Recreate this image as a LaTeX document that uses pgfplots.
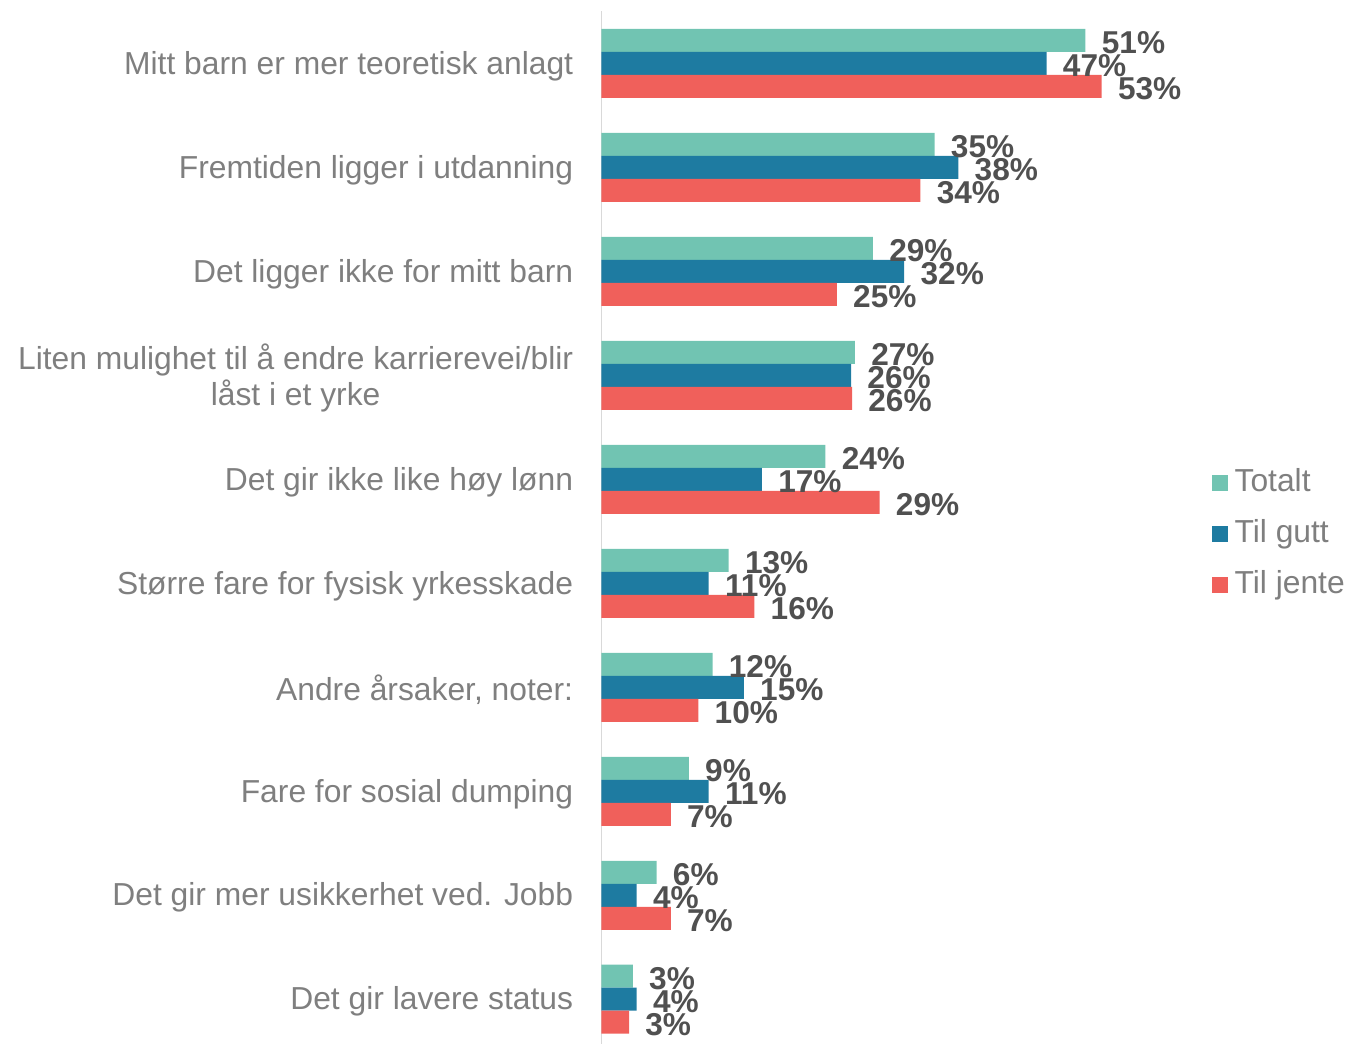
\documentclass[border=0pt]{standalone}
\usepackage{pgfplots}
\usepackage{pgfplotstable}
\pgfplotsset{compat=1.18}
\usepackage{fontspec}
\setmainfont{Liberation Sans}
\definecolor{cTot}{RGB}{113,196,178}
\definecolor{cGutt}{RGB}{30,123,161}
\definecolor{cJente}{RGB}{240,96,91}
\definecolor{catgray}{RGB}{127,127,127}
\definecolor{valgray}{RGB}{80,80,80}
\definecolor{axgray}{RGB}{217,217,217}
\newcommand{\fs}{\fontsize{15.9}{18}\selectfont}
\newcommand{\vfs}{\fontsize{15.8}{18}\selectfont}
\pgfplotstableread{
y tot gutt jente
0 51.0 46.9 52.7
1 35.1 37.6 33.6
2 28.6 31.9 24.8
3 26.7 26.3 26.4
4 23.6 16.9 29.3
5 13.4 11.3 16.1
6 11.7 15.0 10.2
7 9.2 11.3 7.3
8 5.8 3.7 7.3
9 3.3 3.7 2.9
}\data
\begin{document}
\begin{tikzpicture}
\useasboundingbox (0,0) rectangle (675pt,522pt);
\begin{axis}[
  at={(300.75pt,-3.6pt)}, anchor=south west,
  scale only axis, width=284.7pt, height=519.85pt,
  xmin=0, xmax=60, ymin=-0.5, ymax=9.5, y dir=reverse,
  enlargelimits=false, clip=false,
  xbar, bar width=0.2212,
  axis x line=none, axis y line*=left,
  axis line style={axgray, line width=0.75pt},
  ytick={0,...,9}, major tick length=0pt,
  yticklabels={Mitt barn er mer teoretisk anlagt, Fremtiden ligger i utdanning, Det ligger ikke for mitt barn, {Liten mulighet til å endre karrierevei/blir\\låst i et yrke}, Det gir ikke like høy lønn, Større fare for fysisk yrkesskade, {Andre årsaker, noter:}, Fare for sosial dumping, Det gir mer usikkerhet ved. Jobb, Det gir lavere status},
  yticklabel style={font=\fs, text=catgray, align=center, inner sep=0pt, yshift=-1.25pt},
  yticklabel shift=14pt,
  every node near coord/.append style={font=\bfseries\vfs, text=valgray, inner sep=0pt, anchor=west, xshift=8pt, yshift=-1pt},
  legend style={draw=none, fill=none, at={(1.0722,0.4974)}, anchor=west, inner sep=0pt, font=\fs, text=catgray, row sep=10.5pt,
    nodes={inner xsep=3.5pt, inner ysep=0pt, text height=11.5pt, text depth=3.5pt}},
  legend cell align=left,
  legend image code/.code={\fill[#1] (0pt,-3.8pt) rectangle (7.6pt,3.8pt);},
]
\addplot[fill=cTot, draw=none, bar shift=-0.2212] table[x=tot, y=y]{\data};
\addplot[fill=cGutt, draw=none, bar shift=0] table[x=gutt, y=y]{\data};
\addplot[fill=cJente, draw=none, bar shift=0.2212] table[x=jente, y=y]{\data};
\legend{Totalt, Til gutt, Til jente}
\addplot[draw=none, fill=none, bar shift=-0.2212, forget plot, point meta=x,
  nodes near coords={\pgfmathprintnumber[fixed,precision=0,assume math mode=true]{\pgfplotspointmeta}\%}] table[x=tot, y=y]{\data};
\addplot[draw=none, fill=none, bar shift=0, forget plot, point meta=x,
  nodes near coords={\pgfmathprintnumber[fixed,precision=0,assume math mode=true]{\pgfplotspointmeta}\%}] table[x=gutt, y=y]{\data};
\addplot[draw=none, fill=none, bar shift=0.2212, forget plot, point meta=x,
  nodes near coords={\pgfmathprintnumber[fixed,precision=0,assume math mode=true]{\pgfplotspointmeta}\%}] table[x=jente, y=y]{\data};
\end{axis}
\end{tikzpicture}
\end{document}
